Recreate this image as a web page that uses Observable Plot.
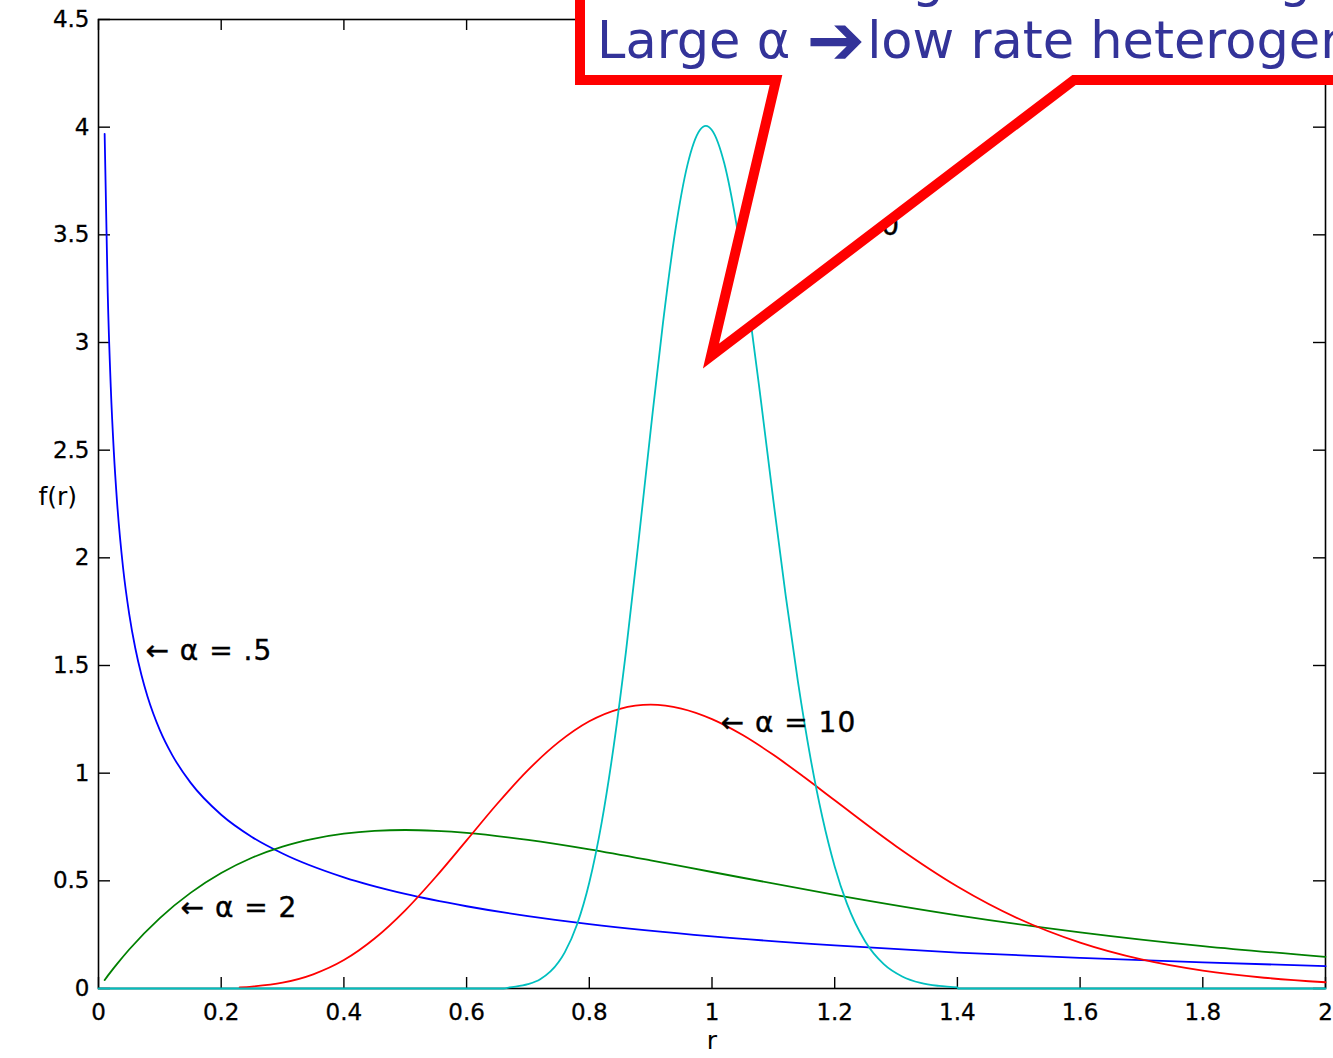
<!DOCTYPE html>
<html><head><meta charset="utf-8">
<script src="https://cdn.jsdelivr.net/npm/d3@7"></script>
<script src="https://cdn.jsdelivr.net/npm/@observablehq/plot@0.6"></script>
<style>
html,body{margin:0;padding:0;background:#fff;overflow:hidden;}
#chart{position:relative;width:1333px;height:1058px;}
</style></head><body><div id="chart"></div>
<script>
// ---- data (gamma densities, mean 1) ----
const xTicks = [0, 0.2, 0.4, 0.6, 0.8, 1, 1.2, 1.4, 1.6, 1.8, 2];
const xTickLabels = ["0", "0.2", "0.4", "0.6", "0.8", "1", "1.2", "1.4", "1.6", "1.8", "2"];
const yTicks = [0, 0.5, 1, 1.5, 2, 2.5, 3, 3.5, 4, 4.5];
const yTickLabels = ["0", "0.5", "1", "1.5", "2", "2.5", "3", "3.5", "4", "4.5"];

// alpha = 0.5 (blue)
const rA05 = [0.01, 0.015, 0.02, 0.025, 0.03, 0.04, 0.05, 0.06, 0.07, 0.08, 0.1, 0.12, 0.15, 0.2, 0.25, 0.3, 0.4, 0.5, 0.6, 0.7, 0.8, 1.0, 1.2, 1.4, 1.6, 1.8, 2.0];
const fA05 = [3.969, 3.233, 2.793, 2.492, 2.269, 1.955, 1.740, 1.580, 1.456, 1.355, 1.200, 1.085, 0.956, 0.807, 0.704, 0.627, 0.516, 0.439, 0.382, 0.336, 0.299, 0.242, 0.200, 0.167, 0.142, 0.121, 0.104];
// alpha = 2 (green)
const rA2 = [0.01, 0.02, 0.03, 0.05, 0.1, 0.15, 0.2, 0.25, 0.3, 0.35, 0.4, 0.45, 0.5, 0.55, 0.6, 0.7, 0.8, 0.9, 1.0, 1.2, 1.4, 1.6, 1.8, 2.0];
const fA2 = [0.039, 0.077, 0.113, 0.181, 0.327, 0.444, 0.536, 0.607, 0.659, 0.695, 0.719, 0.732, 0.736, 0.732, 0.723, 0.690, 0.646, 0.595, 0.541, 0.435, 0.340, 0.261, 0.197, 0.147];
// alpha = 10 (red)
const rA10 = [0.23, 0.25, 0.3, 0.35, 0.4, 0.45, 0.5, 0.55, 0.6, 0.65, 0.7, 0.75, 0.8, 0.85, 0.9, 0.95, 1.0, 1.05, 1.1, 1.15, 1.2, 1.3, 1.4, 1.5, 1.6, 1.7, 1.8, 1.9, 2.0];
const fA10 = [0.005, 0.009, 0.027, 0.066, 0.132, 0.232, 0.363, 0.519, 0.688, 0.858, 1.014, 1.144, 1.241, 1.299, 1.318, 1.300, 1.251, 1.177, 1.085, 0.982, 0.874, 0.661, 0.474, 0.324, 0.213, 0.135, 0.083, 0.050, 0.029];
// alpha = 100 (cyan)
const rA100 = [0, 0.66, 0.67, 0.7, 0.72, 0.75, 0.76, 0.78, 0.8, 0.82, 0.84, 0.86, 0.88, 0.9, 0.92, 0.94, 0.96, 0.98, 0.99, 1.0, 1.02, 1.04, 1.06, 1.08, 1.1, 1.12, 1.14, 1.16, 1.18, 1.2, 1.22, 1.25, 1.28, 1.31, 1.34, 1.37, 1.4, 1.401, 2.0];
const fA100 = [0, 0, 0.005, 0.020, 0.043, 0.123, 0.168, 0.297, 0.492, 0.768, 1.130, 1.570, 2.070, 2.591, 3.089, 3.516, 3.825, 3.986, 4.006, 3.986, 3.832, 3.546, 3.163, 2.724, 2.267, 1.827, 1.426, 1.079, 0.794, 0.567, 0.394, 0.217, 0.113, 0.056, 0.026, 0.012, 0.005, 0, 0];

const seriesNames = ["α = .5", "α = 2", "α = 10", "α = 100"];
const seriesColors = ["#0000ff", "#008000", "#ff0000", "#00bfbf"];

// curve annotations (text, anchor point in data units)
const labelTexts = ["← α = .5", "← α = 2", "← α = 10", "← α = 100"];
const labelX = [0.0766, 0.1337, 1.0139, 1.0546];
const labelY = [1.565, 0.3715, 1.235, 3.543];

// callout text: [before arrow, after arrow]
const calloutLines = [["Small α ", "high rate heterogeneity"], ["Large α ", "low rate heterogeneity"]];

// ---- build tables ----
const toRows = (rs, fs) => rs.map((r, i) => ({r, f: fs[i]}));
const series = [toRows(rA05, fA05), toRows(rA2, fA2), toRows(rA10, fA10), toRows(rA100, fA100)];
const labels = labelTexts.map((t, i) => ({text: t, x: labelX[i], y: labelY[i]}));

const W = 1333, H = 1058, mL = 98, mR = 8, mT = 19, mB = 70;
const innerW = W - mL - mR, innerH = H - mT - mB;

const plot = Plot.plot({
  width: W, height: H,
  marginLeft: mL, marginRight: mR, marginTop: mT, marginBottom: mB,
  style: {fontFamily: "DejaVu Sans", fontSize: "23px", background: "#fff", color: "#000"},
  x: {domain: [0, 2]},
  y: {domain: [0, 4.5]},
  marks: [
    Plot.frame({stroke: "#000", strokeWidth: 1.6}),
    Plot.tickX(xTicks, {x: d => d, insetTop: innerH - 11, stroke: "#000", strokeWidth: 1.4}),
    Plot.tickX(xTicks, {x: d => d, insetBottom: innerH - 11, stroke: "#000", strokeWidth: 1.4}),
    Plot.tickY(yTicks, {y: d => d, insetRight: innerW - 12, stroke: "#000", strokeWidth: 1.4}),
    Plot.tickY(yTicks, {y: d => d, insetLeft: innerW - 12, stroke: "#000", strokeWidth: 1.4}),
    Plot.axisX({ticks: xTicks, tickSize: 0, tickPadding: 15, label: null, fontSize: 23,
      tickFormat: d => xTickLabels[xTicks.indexOf(d)], fill: "#000"}),
    Plot.axisY({ticks: yTicks, tickSize: 0, tickPadding: 9, label: null, fontSize: 23,
      tickFormat: d => yTickLabels[yTicks.indexOf(d)], fill: "#000"}),
    Plot.text(["f(r)"], {frameAnchor: "left", dx: -60, dy: -7, fontSize: 25, fill: "#000"}),
    Plot.text(["r"], {frameAnchor: "bottom", dy: 60, fontSize: 25, fill: "#000"}),
    ...series.map((rows, i) => Plot.line(rows, {x: "r", y: "f", stroke: seriesColors[i], strokeWidth: 1.8, curve: "monotone-x"})),
    Plot.text(labels, {x: "x", y: "y", text: "text", textAnchor: "start", fontSize: 28, fill: "#000", className: "curvelabel"})
  ]
});

document.getElementById("chart").appendChild(plot);

const svg = d3.select(plot);
svg.selectAll(".curvelabel text").attr("letter-spacing", "1px").attr("stroke", "#000").attr("stroke-width", 0.4);
svg.selectAll("[aria-label='x-axis tick label'] text, [aria-label='y-axis tick label'] text")
  .attr("stroke", "#000").attr("stroke-width", 0.3);

// callout overlay
const g = svg.append("g").attr("text-anchor", "start");
g.append("polygon")
  .attr("points", [[580, -60], [580, 80], [776, 80], [711, 356], [1074, 80], [1400, 80], [1400, -60]].map(p => p.join(",")).join(" "))
  .attr("fill", "#fff")
  .attr("stroke", "#ff0000")
  .attr("stroke-width", 10)
  .attr("stroke-linejoin", "miter")
  .attr("stroke-miterlimit", 10);
calloutLines.forEach((parts, i) => {
  const t = g.append("text")
    .attr("x", 597)
    .attr("y", -4 + i * 62)
    .attr("text-anchor", "start")
    .attr("font-family", "DejaVu Sans")
    .attr("font-size", 51)
    .attr("fill", "#333399");
  t.append("tspan").text(parts[0]);
  t.append("tspan").attr("font-size", 70).attr("dy", 6).text("➔");
  t.append("tspan").attr("dy", -6).attr("dx", 2).text(parts[1]);
});
</script></body></html>
